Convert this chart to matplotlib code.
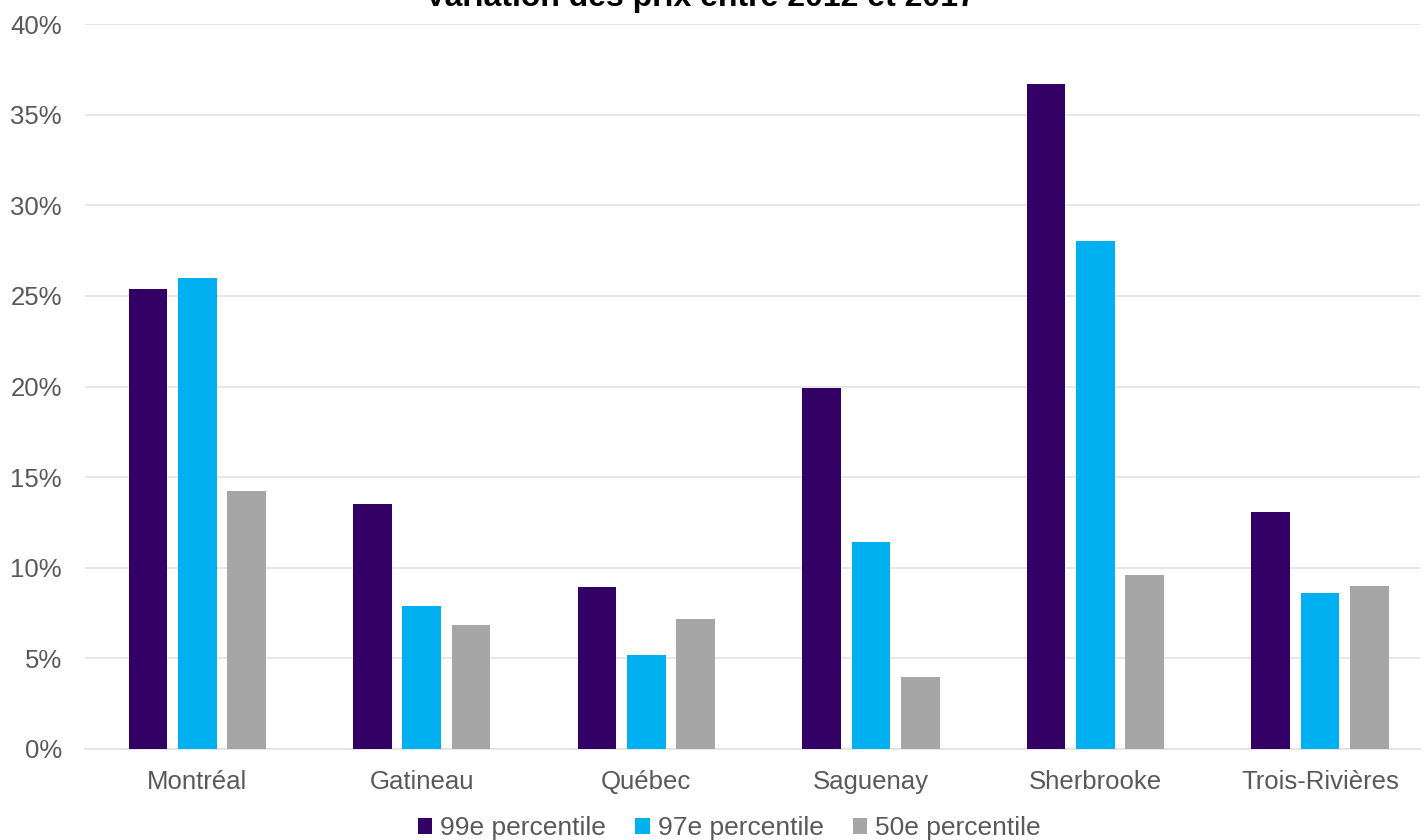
import matplotlib.pyplot as plt
import numpy as np
from matplotlib.ticker import FuncFormatter

plt.rcParams['font.family'] = ['Liberation Sans', 'DejaVu Sans']

villes = ['Montréal', 'Gatineau', 'Québec', 'Saguenay', 'Sherbrooke', 'Trois-Rivières']
p99 = [25.4, 13.5, 8.95, 19.9, 36.7, 13.1]
p97 = [26.0, 7.9, 5.2, 11.4, 28.05, 8.6]
p50 = [14.25, 6.85, 7.2, 3.95, 9.6, 9.0]
series = ['99e percentile', '97e percentile', '50e percentile']
colors = ['#330066', '#00B0F0', '#A6A6A6']

fig = plt.figure(figsize=(14.27, 8.4), dpi=100)
ax = fig.add_axes([85 / 1427, 1 - 749 / 840, 1335 / 1427, 725 / 840])

x = np.arange(len(villes))
w = 0.172
off = 0.22
for i, (vals, lab) in enumerate(zip([p99, p97, p50], series)):
    ax.bar(x + (i - 1) * off, vals, w, color=colors[i], label=lab, zorder=3)

ax.set_ylim(0, 40)
ax.set_xlim(-0.5, 5.446)
ax.set_yticks(np.arange(0, 41, 5))
ax.yaxis.set_major_formatter(FuncFormatter(lambda v, p: f'{v:.0f}%'))
ax.set_xticks(x)
ax.set_xticklabels(villes)
ax.grid(axis='y', color='#E3E3E3', linewidth=1.2, zorder=0)
for s in ['top', 'right', 'left']:
    ax.spines[s].set_visible(False)
ax.spines['bottom'].set_color('#E3E3E3')
ax.spines['bottom'].set_linewidth(1.2)
ax.tick_params(axis='both', length=0, labelsize=18.5, colors='#595959')
ax.tick_params(axis='y', pad=16.5)
ax.tick_params(axis='x', pad=15)

# titre coupé en haut, comme dans l'original
fig.text(0.491, 1 - 6 / 840, 'Variation des prix entre 2012 et 2017', ha='center',
         va='baseline', fontsize=23, fontweight='bold', color='#000000')

leg = fig.legend(loc='center', bbox_to_anchor=(0.511, 1 - 828 / 840), ncol=3,
                 frameon=False, fontsize=19, handlelength=0.55, handleheight=0.55,
                 handletextpad=0.3, columnspacing=1.1)
for t in leg.get_texts():
    t.set_color('#595959')

fig.savefig('out.png', dpi=100)
